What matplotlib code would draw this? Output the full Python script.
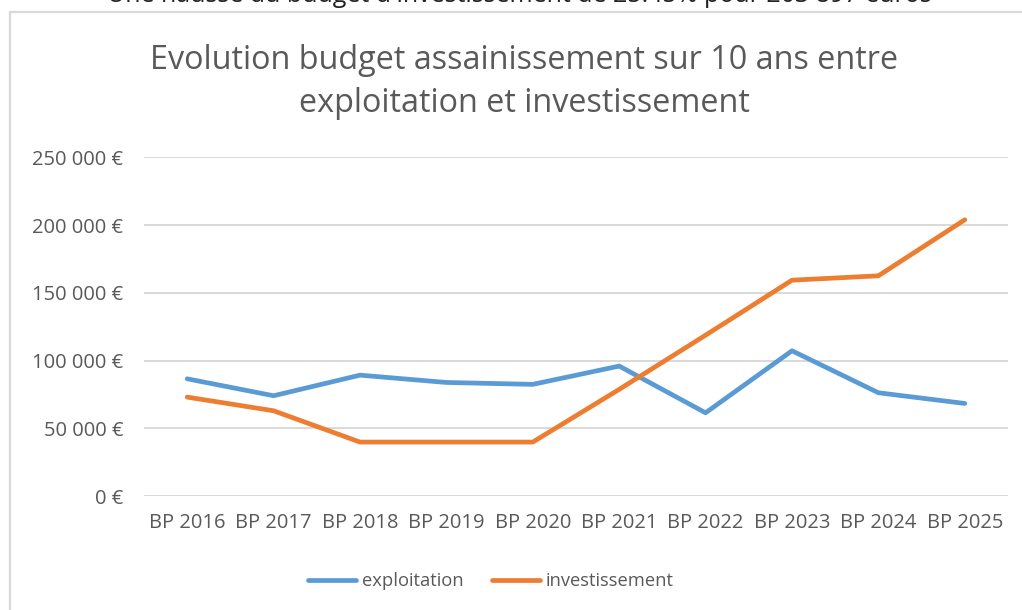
import matplotlib
matplotlib.use("Agg")
import matplotlib.pyplot as plt
from matplotlib.patches import Rectangle

plt.rcParams['font.family'] = ['Open Sans', 'DejaVu Sans']

categories = ["BP 2016", "BP 2017", "BP 2018", "BP 2019", "BP 2020",
              "BP 2021", "BP 2022", "BP 2023", "BP 2024", "BP 2025"]
exploitation = [86500, 74000, 89200, 83800, 82400, 95900, 61400, 107200, 76200, 68300]
investissement = [73000, 62900, 39800, 39800, 39800, 78700, 118700, 159300, 162533, 203897]
y_ticks = [0, 50000, 100000, 150000, 200000, 250000]
y_tick_labels = ["0 €", "50 000 €", "100 000 €", "150 000 €", "200 000 €", "250 000 €"]
title_lines = ["Evolution budget assainissement sur 10 ans entre",
               "exploitation et investissement"]
top_bullet = "•"
top_note = "Une hausse du budget d'investissement de 25.45% pour 203 897 euros"

W, H = 1022, 610
fig = plt.figure(figsize=(W / 100, H / 100), dpi=100)
fig.patch.set_facecolor("white")

TXT = "#595959"
GRID = "#d9d9d9"
BLUE = "#5B9BD5"
ORANGE = "#ED7D31"

def fy(py):
    return 1 - py / H

# chart frame (light grey border)
fig.patches.append(Rectangle((9.5 / W, -0.05), 1.1, fy(12) + 0.05,
                             transform=fig.transFigure, fill=False,
                             edgecolor=GRID, linewidth=1.6, zorder=0))

# cut-off note above the chart
fig.text(58 / W, fy(2.5), top_bullet, ha="left", va="baseline",
         fontsize=18, color="#222222")
fig.text(107 / W, fy(2.5), top_note, ha="left", va="baseline",
         fontsize=18, color="#222222")

ax = fig.add_axes([144 / W, fy(496), (1008 - 144) / W, (496 - 157.3) / H])
x = list(range(len(categories)))
ax.plot(x, exploitation, color=BLUE, linewidth=3.4, solid_capstyle="round",
        solid_joinstyle="round", label="exploitation", zorder=3)
ax.plot(x, investissement, color=ORANGE, linewidth=3.4, solid_capstyle="round",
        solid_joinstyle="round", label="investissement", zorder=3)

ax.set_xlim(-0.5, len(categories) - 0.5)
ax.set_ylim(0, 250000)
ax.set_yticks(y_ticks)
ax.set_yticklabels(y_tick_labels)
ax.set_xticks(x)
ax.set_xticklabels(categories)
ax.tick_params(axis="both", length=0, labelcolor=TXT, labelsize=14.5)
ax.tick_params(axis="y", pad=15)
ax.tick_params(axis="x", pad=12)
for s in ax.spines.values():
    s.set_visible(False)
ax.grid(axis="y", color=GRID, linewidth=1.4)
ax.set_axisbelow(True)
ax.set_facecolor("none")

fig.text(524 / W, fy(69), title_lines[0], ha="center", va="baseline",
         fontsize=23.3, color=TXT)
fig.text(524 / W, fy(112), title_lines[1], ha="center", va="baseline",
         fontsize=23.3, color=TXT)

leg = fig.legend(loc="center", bbox_to_anchor=(491 / W, fy(581)),
                 ncol=2, frameon=False, fontsize=13.2, handlelength=2.6,
                 handletextpad=0.3, columnspacing=1.6, labelcolor=TXT)

fig.savefig("out.png", dpi=100, facecolor="white")
